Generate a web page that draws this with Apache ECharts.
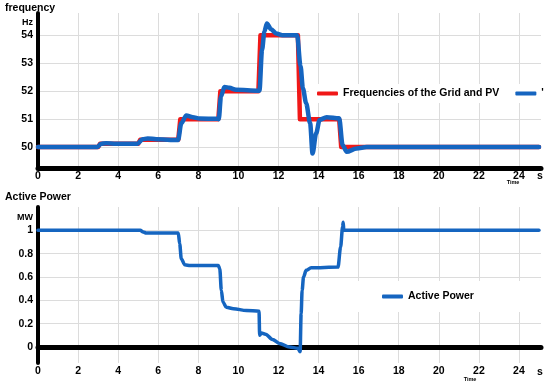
<!DOCTYPE html>
<html><head><meta charset="utf-8">
<script src="https://cdn.jsdelivr.net/npm/echarts@6/dist/echarts.min.js"></script>
<style>html,body{margin:0;padding:0;background:#fff}#c{width:550px;height:386px}</style>
</head><body><div id="c"></div>
<script>
// ---- data ----
var gridT = [0, 3.0, 3.1, 5.0, 5.1, 7.0, 7.1, 9.0, 9.1, 11.0, 11.1, 12.97, 13.07, 15.03, 15.13, 25.0];
var gridF = [50, 50, 50.12, 50.12, 50.26, 50.26, 51, 51, 52, 52, 54, 54, 51, 51, 50, 50];
var pvT = [0, 2.97, 3.13, 3.4, 3.9, 4.97, 5.22, 5.47, 5.9, 6.99, 7.15, 7.4, 7.73, 8.05, 8.97, 9.02, 9.13, 9.3, 9.55, 9.88, 11.0, 11.05, 11.18, 11.3, 11.42, 11.63, 11.88, 12.2, 12.93, 13.1, 13.22, 13.38, 13.58, 13.7, 13.88, 14.05, 14.4, 15.03, 15.2, 15.4, 15.9, 16.4, 17.5, 25.0];
var pvF = [50, 50, 50.11, 50.14, 50.12, 50.12, 50.28, 50.31, 50.28, 50.25, 50.85, 51.13, 51.07, 51.02, 51.01, 51.0, 51.81, 52.15, 52.12, 52.05, 52.02, 52.02, 53.48, 54.14, 54.42, 54.22, 54.07, 54.0, 54.0, 52.9, 52.1, 51.57, 50.85, 49.77, 50.49, 50.97, 51.07, 51.03, 50.07, 49.83, 49.95, 50.0, 50.0, 50.0];
var powT = [0, 5.1, 5.25, 5.4, 7.0, 7.07, 7.15, 7.32, 7.6, 9.0, 9.07, 9.15, 9.23, 9.4, 9.75, 10.4, 11.03, 11.06, 11.15, 11.35, 11.7, 12.05, 12.55, 12.97, 13.08, 13.13, 13.18, 13.25, 13.38, 13.63, 14.97, 15.1, 15.2, 15.23, 15.26, 25.0];
var powP = [1.0, 1.0, 0.985, 0.978, 0.978, 0.886, 0.757, 0.705, 0.698, 0.698, 0.671, 0.485, 0.385, 0.34, 0.328, 0.313, 0.307, 0.10, 0.12, 0.11, 0.065, 0.031, 0.0, -0.01, -0.04, 0.285, 0.485, 0.6, 0.657, 0.68, 0.685, 0.857, 1.03, 1.07, 1.0, 1.0];
var xTicks = [0, 2, 4, 6, 8, 10, 12, 14, 16, 18, 20, 22, 24];
var fTicks = [50, 51, 52, 53, 54];
var pTicks = [0, 0.2, 0.4, 0.6, 0.8, 1];
var nameGrid = 'Frequencies of the Grid and PV';
var namePV = "'";
var namePow = 'Active Power';

function pairs(a, b) { return a.map(function (v, i) { return [v, b[i]]; }); }

var FONT = "'Liberation Sans', Arial, sans-serif";
var BLUE = '#1565c0', RED = '#f01818';

function xAxis(gi) {
  return {
    type: 'value', gridIndex: gi, min: 0, max: 25.1,
    axisLine: { show: true, lineStyle: { color: '#000', width: 5 } },
    axisTick: { show: false, customValues: xTicks },
    axisLabel: { customValues: xTicks, margin: 3, color: '#000', fontWeight: 'bold', fontSize: 10.5, fontFamily: FONT },
    splitLine: { show: true, lineStyle: { color: '#dcdcdc', width: 1 } }
  };
}
function yAxis(gi, min, max, ticks) {
  return {
    type: 'value', gridIndex: gi, min: min, max: max,
    axisLine: { show: true, lineStyle: { color: '#000', width: 4 } },
    axisTick: { show: false, customValues: ticks },
    axisLabel: { customValues: ticks, margin: 5, color: '#000', fontWeight: 'bold', fontSize: 10.5, fontFamily: FONT },
    splitLine: { show: true, lineStyle: { color: '#dcdcdc', width: 1 } }
  };
}
function txt(t, x, y, size, align) {
  return { type: 'text', x: x, y: y, z: 100, style: { text: t, fill: '#000', fontWeight: 'bold', fontSize: size, fontFamily: FONT, align: align || 'left', verticalAlign: 'middle' } };
}

var chart = echarts.init(document.getElementById('c'), null, { renderer: 'canvas' });
chart.setOption({
  animation: false,
  backgroundColor: '#fff',
  grid: [
    { left: 38, right: 9, top: 13, height: 155 },
    { left: 38, right: 9, top: 207, height: 156 }
  ],
  xAxis: [xAxis(0), xAxis(1)],
  yAxis: [yAxis(0, 49.25, 54.8, fTicks), yAxis(1, -0.137, 1.2, pTicks)],
  legend: [
    {
      data: [nameGrid, namePV], left: 309, top: 84, padding: [4, 0, 4, 8],
      backgroundColor: '#fff', itemGap: 16, itemWidth: 21, itemHeight: 4, icon: 'roundRect',
      textStyle: { color: '#000', fontWeight: 'bold', fontSize: 10.5, fontFamily: FONT }
    },
    {
      data: [namePow], left: 310, top: 281, padding: [10, 76, 10, 72],
      backgroundColor: '#fff', itemWidth: 21, itemHeight: 4, icon: 'roundRect',
      textStyle: { color: '#000', fontWeight: 'bold', fontSize: 10.5, fontFamily: FONT }
    }
  ],
  series: [
    { name: nameGrid, type: 'line', xAxisIndex: 0, yAxisIndex: 0, data: pairs(gridT, gridF), symbol: 'none', color: RED,
      lineStyle: { width: 4.5, color: RED, cap: 'round', join: 'round' } },
    { name: namePV, type: 'line', xAxisIndex: 0, yAxisIndex: 0, data: pairs(pvT, pvF), symbol: 'none', color: BLUE,
      smooth: 0.3, smoothMonotone: 'x',
      lineStyle: { width: 4.5, color: BLUE, cap: 'round', join: 'round' } },
    { name: namePow, type: 'line', xAxisIndex: 1, yAxisIndex: 1, data: pairs(powT, powP), symbol: 'none', color: BLUE,
      smooth: 0.3, smoothMonotone: 'x',
      lineStyle: { width: 3.5, color: BLUE, cap: 'round', join: 'round' } }
  ],
  graphic: [
    txt('frequency', 5, 8, 10.5),
    txt('Hz', 33, 22.5, 9, 'right'),
    txt('Active Power', 5, 197, 10.5),
    txt('MW', 33, 218, 9, 'right'),
    txt('s', 540, 176, 10.5, 'center'),
    txt('Time', 513, 182, 5.5, 'center'),
    txt('s', 540, 372, 10.5, 'center'),
    txt('Time', 470, 379, 5.5, 'center')
  ]
});
</script></body></html>
